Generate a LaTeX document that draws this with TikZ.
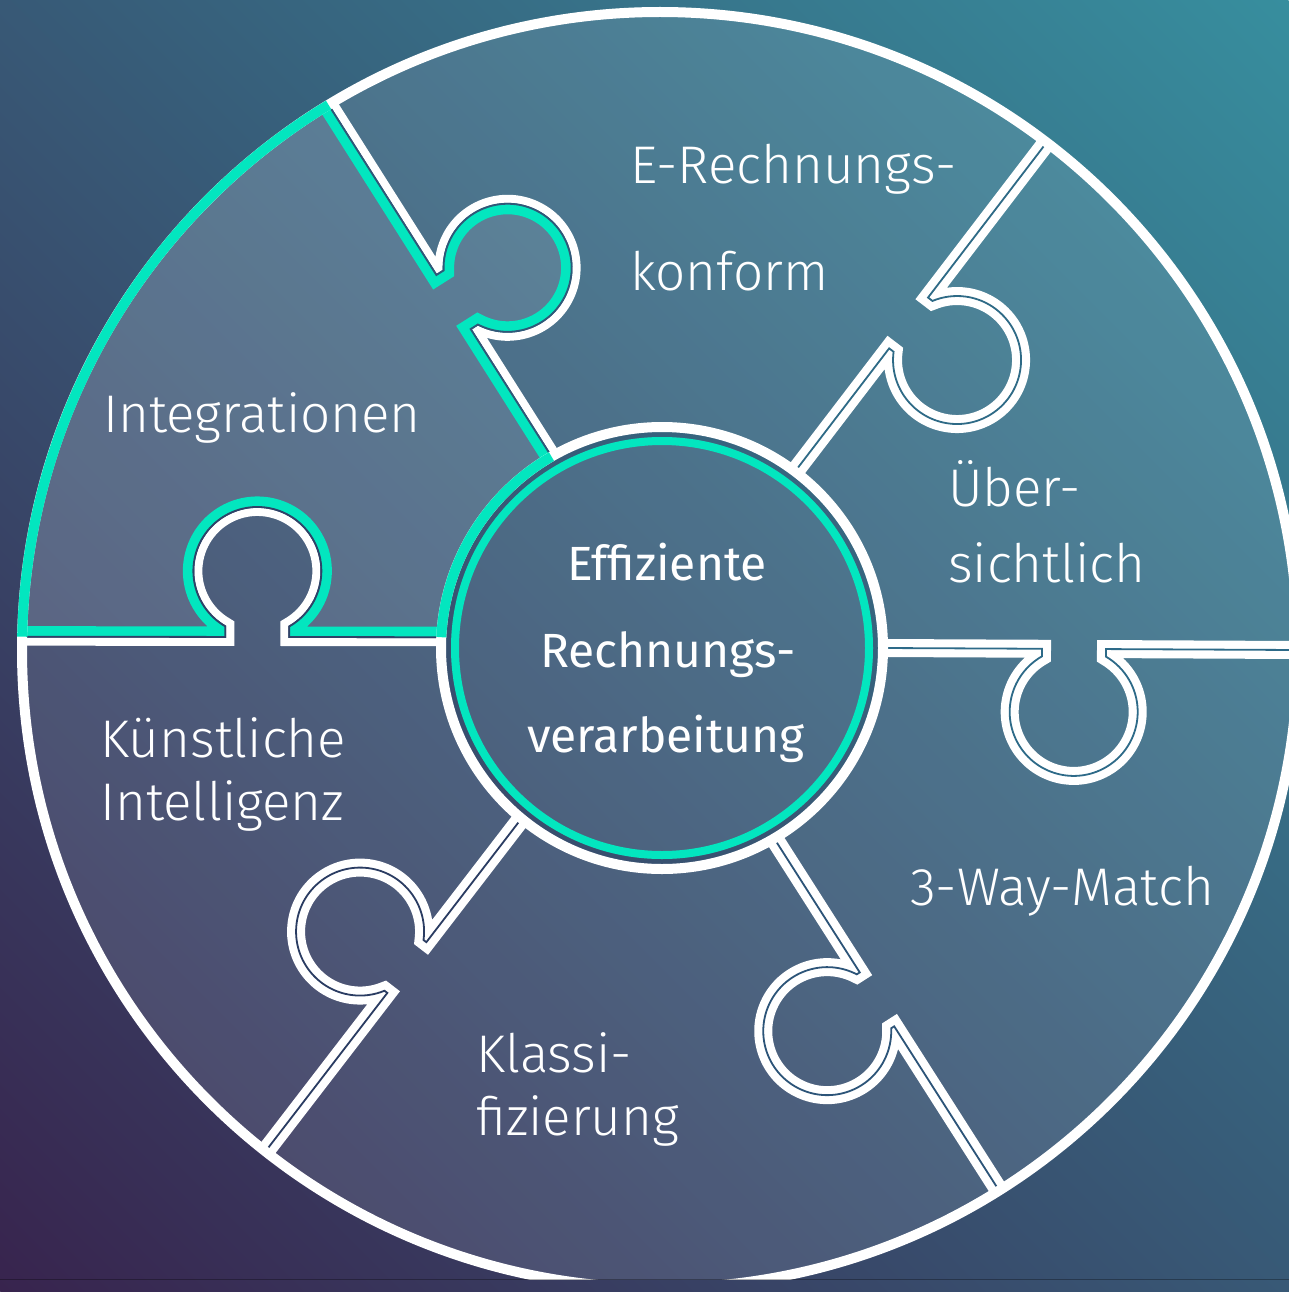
\documentclass[tikz,border=0pt]{standalone}
\usepackage{fontspec}
\setmainfont{Fira Sans}
\newfontfamily\lightfont{Fira Sans Light}
\usetikzlibrary{calc}

\definecolor{bgBL}{HTML}{38244E}
\definecolor{bgMID}{HTML}{305674}
\definecolor{bgTR}{HTML}{378E9E}
\definecolor{tealc}{HTML}{03E6BF}
\definecolor{veil}{HTML}{C4D2E0}
\definecolor{cA}{HTML}{2F5878}
\definecolor{cB}{HTML}{2E6A86}
\definecolor{cC}{HTML}{2D6A88}
\definecolor{cD}{HTML}{2C5478}
\definecolor{cE}{HTML}{2A3C62}
\definecolor{cF}{HTML}{2E4368}

\def\kR{64}\def\kW{32}

% seam from inner ring (angle #2) to outer circle (angle #3), knob at distance #4, offset #5
\newcommand\defseam[5]{%
  \pgfmathsetmacro\kSx{662+221*cos(#2)}%
  \pgfmathsetmacro\kSy{648+221*sin(#2)}%
  \pgfmathsetmacro\kEx{660+638*cos(#3)}%
  \pgfmathsetmacro\kEy{650+638*sin(#3)}%
  \pgfmathsetmacro\kTh{atan2(\kEy-\kSy,\kEx-\kSx)}%
  \pgfmathsetmacro\kUx{cos(\kTh)}%
  \pgfmathsetmacro\kUy{sin(\kTh)}%
  \pgfmathsetmacro\kH{sqrt(\kR*\kR-\kW*\kW)}%
  \pgfmathsetmacro\kOff{#5-\kH}%
  \coordinate (#1s) at (\kSx,\kSy);
  \coordinate (#1e) at (\kEx,\kEy);
  \coordinate (#1p1) at ({\kSx+(#4-\kW)*\kUx},{\kSy+(#4-\kW)*\kUy});
  \coordinate (#1p2) at ({\kSx+(#4+\kW)*\kUx},{\kSy+(#4+\kW)*\kUy});
  \coordinate (#1q1) at ({\kSx+(#4-\kW)*\kUx-\kOff*\kUy},{\kSy+(#4-\kW)*\kUy+\kOff*\kUx});
  \coordinate (#1q2) at ({\kSx+(#4+\kW)*\kUx-\kOff*\kUy},{\kSy+(#4+\kW)*\kUy+\kOff*\kUx});
  \pgfmathsetmacro\kTa{\kTh+240}\expandafter\xdef\csname sa#1\endcsname{\kTa}%
  \pgfmathsetmacro\kTb{\kTh-60}\expandafter\xdef\csname ea#1\endcsname{\kTb}%
}
\newcommand\seam[2]{%
  \edef\kSA{\csname sa#2\endcsname}\edef\kEA{\csname ea#2\endcsname}%
  \draw[#1] (#2s) -- (#2p1) -- (#2q1) arc[start angle=\kSA, end angle=\kEA, radius=\kR] -- (#2p2) -- (#2e);}

\tikzset{
  lbl/.style={text=white, inner sep=0pt, anchor=base west, font=\lightfont\fontsize{53}{58}\selectfont},
  ctr/.style={text=white, inner sep=0pt, anchor=base, font=\fontsize{48}{52}\selectfont},
  seamwhite/.style={draw=white, line width=18pt},
  seamthin/.style={line width=1.8pt},
}

\begin{document}
\begin{tikzpicture}[x=1pt,y=-1pt]
\useasboundingbox (0,0) rectangle (1289,1292);
% background
\begin{scope}
  \clip (0,0) rectangle (1289,1292);
  \begin{scope}[transform canvas={rotate around={-45:(644.5,646)}}]
    \shade[bottom color=bgBL, middle color=bgMID, top color=bgTR] (-400,-266) rectangle (1689,1558);
  \end{scope}
\end{scope}

\defseam{A}{-120}{-121.3}{183}{64}
\defseam{B}{-53}{-52.7}{187}{61}
\defseam{C}{0}{0}{191}{63}
\defseam{D}{59.5}{57.9}{191}{59}
\defseam{E}{129.5}{128.2}{188}{59}
\defseam{F}{182.8}{181.2}{184}{66}

\begin{scope}
  \clip (0,0) rectangle (1289,1279);
  % veil over the disc, leaving a gap ring around the centre
  \fill[veil, fill opacity=0.15, even odd rule] (660,650) circle[radius=638]
       (662,648) circle[radius=216] (662,648) circle[radius=211];
  % highlighted piece
  \fill[veil, fill opacity=0.13]
    (As) -- (Ap1) -- (Aq1) arc[start angle=\saA, end angle=\eaA, radius=64] -- (Ap2) -- (Ae)
    arc[start angle=-121.3, end angle=-178.8, radius=638]
    -- (Fe) -- (Fp2) -- (Fq2) arc[start angle=\eaF, end angle=\saF, radius=64] -- (Fp1) -- (Fs)
    arc[start angle=-177.2, end angle=-120, radius=221] -- cycle;
  % seams
  \foreach \n in {A,B,C,D,E,F}{\seam{seamwhite}{\n}}
  \foreach \n in {A,B,C,D,E,F}{\seam{seamthin, draw=c\n}{\n}}
  \begin{scope}
    \clip (As) -- (Ap1) -- (Aq1) arc[start angle=\saA, end angle=\eaA, radius=64] -- (Ap2) -- (Ae)
    arc[start angle=-121.3, end angle=-178.8, radius=638]
    -- (Fe) -- (Fp2) -- (Fq2) arc[start angle=\eaF, end angle=\saF, radius=64] -- (Fp1) -- (Fs)
    arc[start angle=-177.2, end angle=-120, radius=221] -- cycle;
    \seam{draw=tealc, line width=21pt}{A}
    \seam{draw=tealc, line width=21pt}{F}
  \end{scope}
  \seam{seamthin, draw=cA}{A}
  \seam{seamthin, draw=cF}{F}
  % rings
  \draw[white, line width=10pt] (660,650) circle[radius=638];
  \draw[white, line width=10pt] (662,648) circle[radius=221];
  \draw[tealc, line width=10pt] (Ae) arc[start angle=-121.3, end angle=-178.8, radius=638];
  \draw[tealc, line width=10pt] (Fs) arc[start angle=-177.2, end angle=-120, radius=221];
  \draw[tealc, line width=8pt] (662,648) circle[radius=207];
\end{scope}
\draw[black, opacity=0.3, line width=1.5pt] (0,1279.5) -- (1289,1279.5);

% labels
\node[lbl] (t1a) at (630,183) {E-Rechnungs-};
\node[lbl] (t1b) at (630,290) {konform};
\node[lbl] (t2a) at (948,506) {Über-};
\node[lbl] (t2b) at (948,582) {sichtlich};
\node[lbl] (t3) at (910,905) {3-Way-Match};
\node[lbl] (t4a) at (476,1072) {Klassi-};
\node[lbl] (t4b) at (476,1135) {fizierung};
\node[lbl] (t5a) at (100,757) {Künstliche};
\node[lbl] (t5b) at (100,820) {Intelligenz};
\node[lbl] (t6) at (103,432) {Integrationen};
\node[ctr] (c1) at (667,580) {Effiziente};
\node[ctr] (c2) at (668,667) {Rechnungs-};
\node[ctr] (c3) at (666,752) {verarbeitung};
\end{tikzpicture}
\end{document}
